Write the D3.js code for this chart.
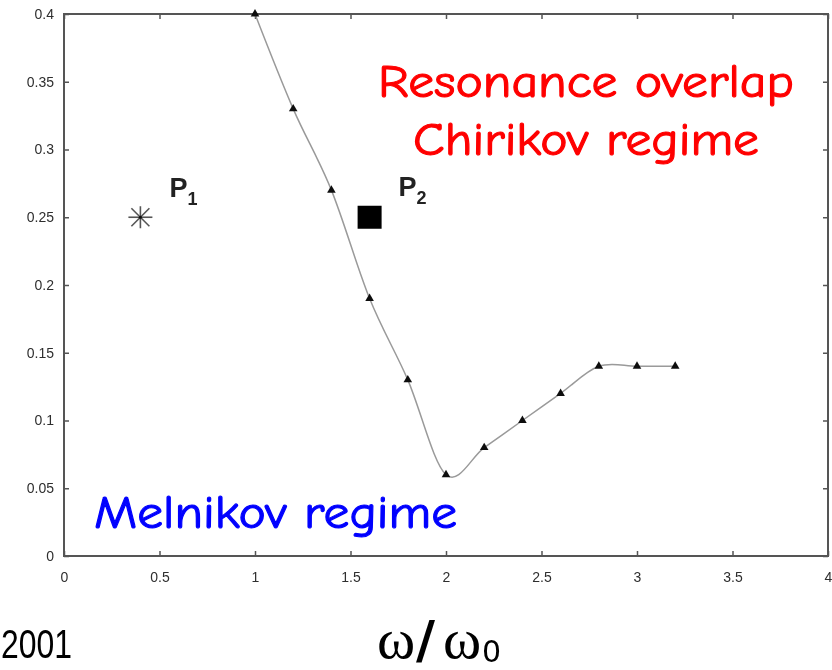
<!DOCTYPE html>
<html>
<head>
<meta charset="utf-8">
<script src="https://cdn.jsdelivr.net/npm/d3@7"></script>
<style>
  html, body { margin: 0; padding: 0; background: #fff; }
  svg { display: block; }
</style>
</head>
<body>
<svg id="chart" width="832" height="670"></svg>
<script>
// Threshold curve: driving frequency ratio vs. critical amplitude
const omegaRatio = [1.0, 1.2, 1.4, 1.6, 1.8, 2.0, 2.2, 2.4, 2.6, 2.8, 3.0, 3.2];
const threshold  = [0.40, 0.33, 0.27, 0.19, 0.13, 0.06, 0.08, 0.10, 0.12, 0.14, 0.14, 0.14];

// Marked parameter points
const pointNames = ["P1", "P2"];
const pointX = [0.4, 1.6];
const pointY = [0.25, 0.25];

// Axis ticks
const xTickValues = [0, 0.5, 1, 1.5, 2, 2.5, 3, 3.5, 4];
const xTickLabels = ["0", "0.5", "1", "1.5", "2", "2.5", "3", "3.5", "4"];
const yTickValues = [0, 0.05, 0.1, 0.15, 0.2, 0.25, 0.3, 0.35, 0.4];
const yTickLabels = ["0", "0.05", "0.1", "0.15", "0.2", "0.25", "0.3", "0.35", "0.4"];

const svg = d3.select("#chart");

const plotLeft = 64, plotRight = 828, plotTop = 14, plotBottom = 556;
const x = d3.scaleLinear().domain([0, 4]).range([plotLeft, plotRight]);
const y = d3.scaleLinear().domain([0, 0.4]).range([plotBottom, plotTop]);

// slight softening of the plotted figure
const defs = svg.append("defs");
defs.append("filter").attr("id", "soft")
  .append("feGaussianBlur").attr("stdDeviation", 0.55);

const plot = svg.append("g").attr("filter", "url(#soft)");

const axisColor = "#555";
const tickFont = "'Liberation Sans', Arial, sans-serif";

function styleAxis(g) {
  g.select(".domain").remove();
  g.selectAll(".tick line").attr("stroke", axisColor).attr("stroke-width", 1.5);
  g.selectAll(".tick text")
    .attr("fill", "#2e2e2e")
    .attr("font-family", tickFont)
    .attr("font-size", 14);
}

plot.append("g")
  .attr("transform", `translate(0,${plotBottom})`)
  .call(d3.axisBottom(x).tickValues(xTickValues)
    .tickFormat((d, i) => xTickLabels[i]).tickSize(-5).tickPadding(16))
  .call(styleAxis);

plot.append("g")
  .attr("transform", `translate(0,${plotTop})`)
  .call(d3.axisTop(x).tickValues(xTickValues).tickFormat("").tickSize(-5))
  .call(styleAxis);

plot.append("g")
  .attr("transform", `translate(${plotLeft},0)`)
  .call(d3.axisLeft(y).tickValues(yTickValues)
    .tickFormat((d, i) => yTickLabels[i]).tickSize(-5).tickPadding(10))
  .call(styleAxis);

plot.append("g")
  .attr("transform", `translate(${plotRight},0)`)
  .call(d3.axisRight(y).tickValues(yTickValues).tickFormat("").tickSize(-5))
  .call(styleAxis);

// frame
plot.append("rect")
  .attr("x", plotLeft).attr("y", plotTop)
  .attr("width", plotRight - plotLeft).attr("height", plotBottom - plotTop)
  .attr("fill", "none").attr("stroke", axisColor).attr("stroke-width", 2);

// threshold curve
const data = omegaRatio.map((w, i) => [w, threshold[i]]);
plot.append("path")
  .datum(data)
  .attr("fill", "none")
  .attr("stroke", "#9a9a9a")
  .attr("stroke-width", 1.5)
  .attr("d", d3.line().x(d => x(d[0])).y(d => y(d[1])).curve(d3.curveCardinal.tension(0)));

plot.selectAll("path.marker")
  .data(data)
  .join("path")
  .attr("class", "marker")
  .attr("transform", d => `translate(${x(d[0])},${y(d[1])})`)
  .attr("d", d3.symbol(d3.symbolTriangle, 32))
  .attr("fill", "#111");

// P1: asterisk
const p1x = x(pointX[0]), p1y = y(pointY[0]);
const ast = plot.append("g").attr("transform", `translate(${p1x},${p1y})`)
  .attr("stroke", "#555").attr("stroke-width", 1.6);
ast.append("line").attr("x1", -12).attr("x2", 12).attr("y1", 0).attr("y2", 0);
ast.append("line").attr("x1", 0).attr("x2", 0).attr("y1", -11).attr("y2", 11);
ast.append("line").attr("x1", -9).attr("x2", 9).attr("y1", -9).attr("y2", 9);
ast.append("line").attr("x1", -9).attr("x2", 9).attr("y1", 9).attr("y2", -9);
plot.append("circle").attr("cx", p1x).attr("cy", p1y).attr("r", 1.6).attr("fill", "#111");

// P2: filled square
const p2x = x(pointX[1]), p2y = y(pointY[1]);
plot.append("rect")
  .attr("x", p2x - 12).attr("y", p2y - 11.5)
  .attr("width", 24).attr("height", 23)
  .attr("fill", "#000");

// point labels with subscripts
const labelPos = [[p1x + 29, p1y - 20], [p2x + 29, p2y - 21]];
pointNames.forEach((name, i) => {
  const t = plot.append("text")
    .attr("x", labelPos[i][0]).attr("y", labelPos[i][1])
    .attr("font-family", tickFont)
    .attr("font-weight", "bold")
    .attr("font-size", 27)
    .attr("fill", "#222");
  t.append("tspan").text(name[0]);
  t.append("tspan").attr("dy", 8).attr("font-size", 18).text(name.slice(1));
});

// regime annotations
const handFont = "'Comic Sans MS', 'Comic Neue', 'DejaVu Sans', sans-serif";
function regimeLabel(text, x0, y0, len, color) {
  svg.append("text")
    .attr("x", x0).attr("y", y0)
    .attr("textLength", len).attr("lengthAdjust", "spacingAndGlyphs")
    .attr("font-family", handFont).attr("font-size", 47)
    .attr("fill", color)
    .attr("stroke", color).attr("stroke-width", 1.1)
    .attr("stroke-linejoin", "round")
    .text(text);
}
regimeLabel("Resonance overlap", 378, 97, 416, "#ff0000");
regimeLabel("Chirikov regime", 413, 155, 346, "#ff0000");
regimeLabel("Melnikov regime", 94, 528, 363, "#0000ff");

// year and axis title
svg.append("text")
  .attr("x", 1).attr("y", 658)
  .attr("textLength", 71).attr("lengthAdjust", "spacingAndGlyphs")
  .attr("font-family", tickFont)
  .attr("font-size", 40)
  .attr("fill", "#000")
  .text("2001");

const serif = "'Liberation Serif', 'Times New Roman', serif";
const xt = svg.append("text")
  .attr("y", 658)
  .attr("font-family", serif)
  .attr("font-size", 58)
  .attr("fill", "#000");
xt.append("tspan").attr("x", 377).text("ω");
xt.append("tspan").attr("x", 416).attr("font-family", "'DejaVu Sans', sans-serif")
  .attr("font-weight", "bold").attr("font-size", 52).text("/");
xt.append("tspan").attr("x", 443).text("ω");
xt.append("tspan").attr("x", 482).attr("y", 662)
  .attr("font-family", "'DejaVu Sans', sans-serif").attr("font-size", 30).text("0");
</script>
</body>
</html>
